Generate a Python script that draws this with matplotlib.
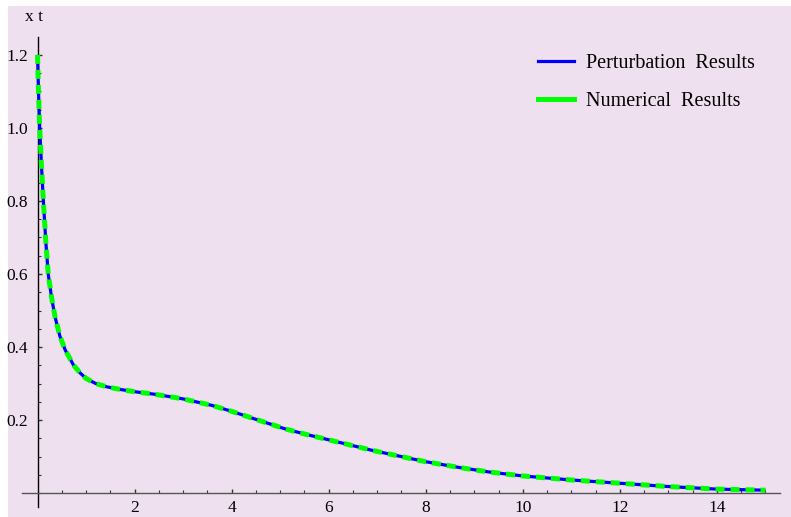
import matplotlib
matplotlib.use("Agg")
import matplotlib.pyplot as plt
from matplotlib.lines import Line2D
from matplotlib.patches import Rectangle
from matplotlib.ticker import MultipleLocator, FixedLocator

plt.rcParams['font.family'] = ['Liberation Serif', 'DejaVu Serif']
plt.rcParams['lines.scale_dashes'] = False

# data
t_vals = [0, 0.02, 0.045, 0.08, 0.12, 0.17, 0.22, 0.29, 0.36, 0.46, 0.57, 0.74, 0.87, 1.0,
          1.2, 1.43, 1.7, 2.04, 2.4, 2.73, 3.0, 3.3, 3.6, 4.0, 4.5, 5.1, 5.5, 6.0, 6.9,
          7.5, 8.0, 8.7, 9.3, 10.0, 11.0, 12.0, 13.0, 14.0, 15.0]
x_vals = [1.2, 1.1, 1.0, 0.9, 0.8, 0.69, 0.6, 0.535, 0.483, 0.43, 0.392, 0.351, 0.330, 0.314,
          0.300, 0.291, 0.284, 0.277, 0.271, 0.264, 0.258, 0.249, 0.240, 0.224, 0.202, 0.176,
          0.162, 0.146, 0.117, 0.100, 0.086, 0.070, 0.058, 0.047, 0.036, 0.027, 0.018, 0.011, 0.008]

x_ticks = [2, 4, 6, 8, 10, 12, 14]
y_ticks = [0.2, 0.4, 0.6, 0.8, 1.0, 1.2]
series_labels = ["Perturbation  Results", "Numerical  Results"]

W, H = 791, 517
fig = plt.figure(figsize=(W / 100, H / 100), dpi=100, facecolor='white')
bg = '#EFE0EF'
fig.patches.append(Rectangle((8 / W, 0), 1 - 8 / W, 1 - 6 / H, transform=fig.transFigure,
                             facecolor=bg, edgecolor='none', zorder=-10))

ax = fig.add_axes([22 / W, 1 - 507 / H, (780 - 22) / W, (507 - 37) / H])
ax.patch.set_alpha(0)
ax.set_xlim(-0.32, 15.3)
ax.set_ylim(-0.038, 1.249)

for s in ['top', 'right']:
    ax.spines[s].set_visible(False)
ax.spines['left'].set_position(('data', 0))
ax.spines['bottom'].set_position(('data', 0))
ax.spines['left'].set_color('black')
ax.spines['bottom'].set_color('#555555')
ax.spines['left'].set_linewidth(1.0)
ax.spines['bottom'].set_linewidth(1.0)

ax.plot(t_vals, x_vals, color='#0000FF', lw=2.3, solid_capstyle='butt', zorder=3)
ax.plot(t_vals, x_vals, color='#00FF00', lw=3.6, dashes=(6.5, 4.3), dash_capstyle='butt', zorder=4)

ax.xaxis.set_major_locator(FixedLocator(x_ticks))
ax.xaxis.set_minor_locator(MultipleLocator(0.5))
ax.yaxis.set_major_locator(FixedLocator(y_ticks))
ax.yaxis.set_minor_locator(MultipleLocator(0.05))
ax.set_xticklabels([str(v) for v in x_ticks])
ax.set_yticklabels([f"{v:.1f}" for v in y_ticks])

ax.tick_params(axis='x', which='major', direction='in', length=3, width=1, color='#333333',
               labelsize=12.5, pad=5)
ax.tick_params(axis='x', which='minor', direction='in', length=2, width=0.8, color='#333333')
ax.tick_params(axis='y', which='major', direction='in', length=3, width=1, color='#333333',
               labelsize=12.5, pad=7)
ax.tick_params(axis='y', which='minor', direction='in', length=2, width=0.8, color='#333333')

fig.text(34 / W, 1 - 17 / H, "x t", ha='center', va='center', fontsize=12.5)

handles = [Line2D([], [], color='#0000FF', lw=2.3),
           Line2D([], [], color='#00FF00', lw=3.6)]
leg = ax.legend(handles, series_labels, loc='upper left', bbox_to_anchor=(520 / W, 1 - 36 / H),
                bbox_transform=fig.transFigure, frameon=False, fontsize=14.5,
                handlelength=1.8, handletextpad=0.6, labelspacing=0.95, borderpad=0.4)

fig.savefig('out.png', dpi=100, facecolor=fig.get_facecolor())
